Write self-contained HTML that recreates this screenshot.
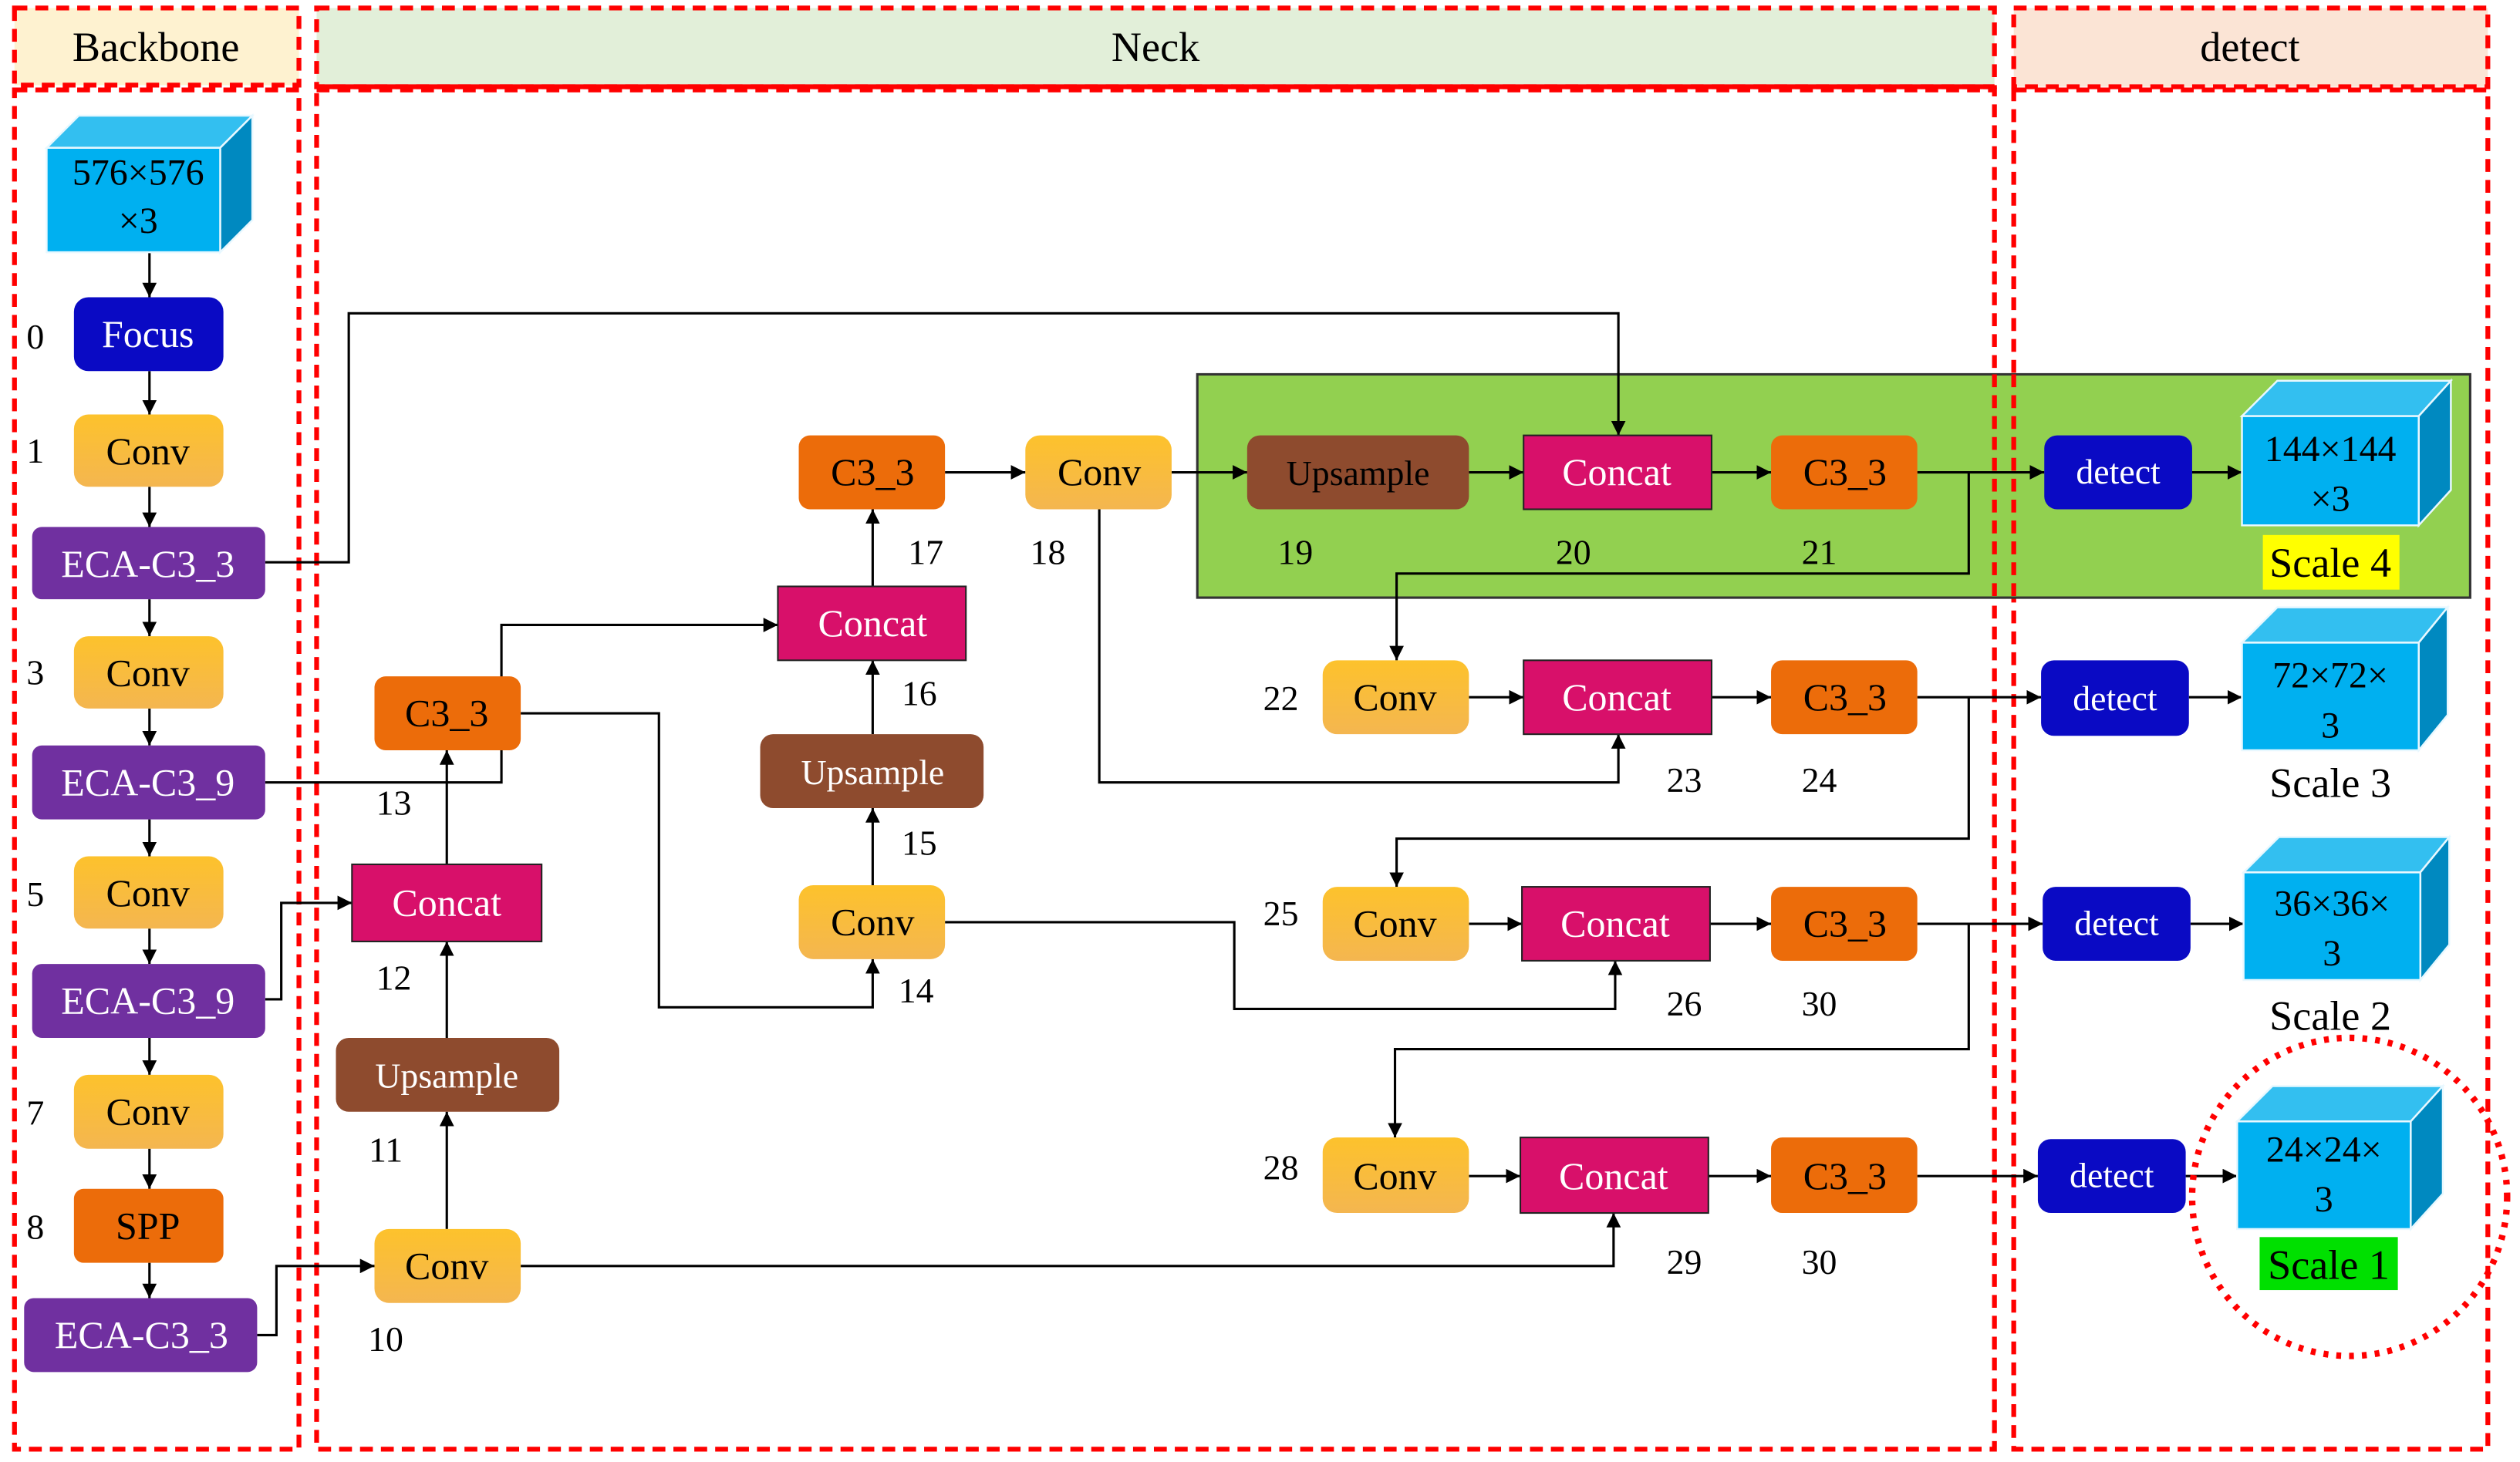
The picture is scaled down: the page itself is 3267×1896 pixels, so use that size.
<!DOCTYPE html>
<html><head><meta charset="utf-8"><style>
html,body{margin:0;padding:0;background:#fff;}
svg{display:block;}
text{font-family:"Liberation Serif",serif;}
</style></head><body>
<svg width="3267" height="1896" viewBox="0 0 1568 910" xmlns="http://www.w3.org/2000/svg">
<defs>
<marker id="a" viewBox="0 0 10 10" refX="10" refY="5" markerWidth="9" markerHeight="9" markerUnits="userSpaceOnUse" orient="auto"><path d="M0,0 L10,5 L0,10 z" fill="#000"/></marker>
<linearGradient id="y" x1="0" y1="0" x2="0" y2="1"><stop offset="0" stop-color="#fdc22c"/><stop offset="1" stop-color="#f4b650"/></linearGradient>
</defs>
<rect width="1568" height="910" fill="#fff"/>
<!-- panels -->
<g stroke="#f00" stroke-width="3" stroke-dasharray="8,5">
<rect x="9" y="5" width="177" height="48" fill="#fef2d0"/>
<rect x="9" y="56" width="177" height="846" fill="none"/>
<rect x="197" y="5" width="1044" height="49" fill="#e2efd9"/>
<rect x="197" y="56" width="1044" height="846" fill="none"/>
<rect x="1253" y="5" width="295" height="49" fill="#fbe4d5"/>
<rect x="1253" y="56" width="295" height="846" fill="none"/>
</g>
<line x1="197" y1="54" x2="1241" y2="54" stroke="#f00" stroke-width="3"/>
<g font-size="26" text-anchor="middle">
<text x="97" y="38">Backbone</text><text x="719" y="38">Neck</text><text x="1400" y="38">detect</text>
</g>
<!-- green box -->
<rect x="745" y="233" width="792" height="139" fill="#92d050" stroke="#333" stroke-width="1.5"/>
<!-- re-draw red dashed across green -->
<g stroke="#f00" stroke-width="3" stroke-dasharray="8,5"><line x1="1241" y1="233" x2="1241" y2="372"/><line x1="1253" y1="233" x2="1253" y2="372"/></g>
<!-- connectors -->
<g stroke="#000" stroke-width="1.5" fill="none" marker-end="url(#a)">
<path d="M93,157V185"/><path d="M93,231V258"/><path d="M93,303V328"/><path d="M93,373V396"/><path d="M93,441V464"/><path d="M93,510V533"/><path d="M93,578V600"/><path d="M93,646V669"/><path d="M93,715V740"/><path d="M93,786V808"/>
<path d="M165,350H217V195H1007V271"/>
<path d="M165,487H312V389H484"/>
<path d="M165,622H175V562H219"/>
<path d="M160,831H172V788H233"/>
<path d="M278,765V692"/><path d="M278,646V586"/><path d="M278,538V467"/>
<path d="M324,444H410V627H543V597"/>
<path d="M543,551V503"/><path d="M543,457V411"/><path d="M543,365V317"/>
<path d="M588,294H638"/><path d="M729,294H776"/><path d="M914,294H948"/><path d="M1065,294H1102"/><path d="M1193,294H1272"/>
<path d="M684,317V487H1007V457"/>
<path d="M1225,294V357H869V411"/>
<path d="M914,434H948"/><path d="M1065,434H1102"/><path d="M1193,434H1270"/>
<path d="M1225,434V522H869V552"/>
<path d="M588,574H768V628H1005V598"/>
<path d="M914,575H947"/><path d="M1064,575H1102"/><path d="M1193,575H1271"/>
<path d="M1225,575V653H868V708"/>
<path d="M324,788H1004V755"/>
<path d="M914,732H946"/><path d="M1063,732H1102"/><path d="M1193,732H1268"/>
<path d="M1364,294H1395"/><path d="M1362,434H1395"/><path d="M1363,575H1396"/><path d="M1360,732H1392"/>
</g>
<!-- cubes -->
<g stroke="#e8f8ff" stroke-width="1.2">
<polygon points="29,92 49,72 157,72 137,92" fill="#33bff0"/><polygon points="137,92 157,72 157,137 137,157" fill="#0089c0"/><rect x="29" y="92" width="108" height="65" fill="#00b0f0"/>
<polygon points="1395,259 1417,237 1525,237 1505,259" fill="#33bff0"/><polygon points="1505,259 1525,237 1525,305 1505,327" fill="#0089c0"/><rect x="1395" y="259" width="110" height="68" fill="#00b0f0"/>
<polygon points="1395,400 1417,378 1523,378 1505,400" fill="#33bff0"/><polygon points="1505,400 1523,378 1523,445 1505,467" fill="#0089c0"/><rect x="1395" y="400" width="110" height="67" fill="#00b0f0"/>
<polygon points="1396,543 1418,521 1524,521 1506,543" fill="#33bff0"/><polygon points="1506,543 1524,521 1524,588 1506,610" fill="#0089c0"/><rect x="1396" y="543" width="110" height="67" fill="#00b0f0"/>
<polygon points="1392,698 1414,676 1520,676 1500,698" fill="#33bff0"/><polygon points="1500,698 1520,676 1520,743 1500,765" fill="#0089c0"/><rect x="1392" y="698" width="108" height="67" fill="#00b0f0"/>
</g>
<g font-size="23" text-anchor="middle">
<text x="86" y="115">576×576</text><text x="86" y="145">×3</text>
<text x="1450" y="287">144×144</text><text x="1450" y="318">×3</text>
<text x="1450" y="428">72×72×</text><text x="1450" y="459">3</text>
<text x="1451" y="570">36×36×</text><text x="1451" y="601">3</text>
<text x="1446" y="723">24×24×</text><text x="1446" y="754">3</text>
</g>
<rect x="1408" y="333" width="85" height="34" fill="#ffff00"/>
<rect x="1406" y="770" width="86" height="33" fill="#00e000"/>
<g font-size="26" text-anchor="middle">
<text x="1450" y="359">Scale 4</text><text x="1450" y="496">Scale 3</text><text x="1450" y="641">Scale 2</text><text x="1449" y="796">Scale 1</text>
</g>
<ellipse cx="1462" cy="745" rx="98" ry="99" fill="none" stroke="#f00" stroke-width="4" stroke-dasharray="3,5"/>
<!-- nodes -->
<g>
<rect x="46" y="185" width="93" height="46" rx="9" fill="#0a0ac4"/>
<rect x="46" y="258" width="93" height="45" rx="9" fill="url(#y)"/>
<rect x="20" y="328" width="145" height="45" rx="6" fill="#7030a0"/>
<rect x="46" y="396" width="93" height="45" rx="9" fill="url(#y)"/>
<rect x="20" y="464" width="145" height="46" rx="6" fill="#7030a0"/>
<rect x="46" y="533" width="93" height="45" rx="9" fill="url(#y)"/>
<rect x="20" y="600" width="145" height="46" rx="6" fill="#7030a0"/>
<rect x="46" y="669" width="93" height="46" rx="9" fill="url(#y)"/>
<rect x="46" y="740" width="93" height="46" rx="6" fill="#ec6c0a"/>
<rect x="15" y="808" width="145" height="46" rx="6" fill="#7030a0"/>

<rect x="233" y="765" width="91" height="46" rx="9" fill="url(#y)"/>
<rect x="209" y="646" width="139" height="46" rx="8" fill="#8e4b2e"/>
<rect x="219" y="538" width="118" height="48" fill="#d8106a" stroke="#222" stroke-width="1"/>
<rect x="233" y="421" width="91" height="46" rx="7" fill="#ec6c0a"/>
<rect x="497" y="551" width="91" height="46" rx="9" fill="url(#y)"/>
<rect x="473" y="457" width="139" height="46" rx="8" fill="#8e4b2e"/>
<rect x="484" y="365" width="117" height="46" fill="#d8106a" stroke="#222" stroke-width="1"/>
<rect x="497" y="271" width="91" height="46" rx="7" fill="#ec6c0a"/>
<rect x="638" y="271" width="91" height="46" rx="9" fill="url(#y)"/>
<rect x="776" y="271" width="138" height="46" rx="8" fill="#8e4b2e"/>
<rect x="948" y="271" width="117" height="46" fill="#d8106a" stroke="#222" stroke-width="1"/>
<rect x="1102" y="271" width="91" height="46" rx="7" fill="#ec6c0a"/>
<rect x="823" y="411" width="91" height="46" rx="9" fill="url(#y)"/>
<rect x="948" y="411" width="117" height="46" fill="#d8106a" stroke="#222" stroke-width="1"/>
<rect x="1102" y="411" width="91" height="46" rx="7" fill="#ec6c0a"/>
<rect x="823" y="552" width="91" height="46" rx="9" fill="url(#y)"/>
<rect x="947" y="552" width="117" height="46" fill="#d8106a" stroke="#222" stroke-width="1"/>
<rect x="1102" y="552" width="91" height="46" rx="7" fill="#ec6c0a"/>
<rect x="823" y="708" width="91" height="47" rx="9" fill="url(#y)"/>
<rect x="946" y="708" width="117" height="47" fill="#d8106a" stroke="#222" stroke-width="1"/>
<rect x="1102" y="708" width="91" height="47" rx="7" fill="#ec6c0a"/>

<rect x="1272" y="271" width="92" height="46" rx="8" fill="#0a0ac4"/>
<rect x="1270" y="411" width="92" height="47" rx="8" fill="#0a0ac4"/>
<rect x="1271" y="552" width="92" height="46" rx="8" fill="#0a0ac4"/>
<rect x="1268" y="709" width="92" height="46" rx="8" fill="#0a0ac4"/>
</g>
<g font-size="24" text-anchor="middle" fill="#000">
<text x="92" y="216" fill="#fff">Focus</text>
<text x="92" y="289">Conv</text>
<text x="92" y="359" fill="#fff">ECA-C3_3</text>
<text x="92" y="427">Conv</text>
<text x="92" y="495" fill="#fff">ECA-C3_9</text>
<text x="92" y="564">Conv</text>
<text x="92" y="631" fill="#fff">ECA-C3_9</text>
<text x="92" y="700">Conv</text>
<text x="92" y="771">SPP</text>
<text x="88" y="839" fill="#fff">ECA-C3_3</text>
<text x="278" y="796">Conv</text>
<text x="278" y="677" fill="#fff" font-size="22">Upsample</text>
<text x="278" y="570" fill="#fff">Concat</text>
<text x="278" y="452">C3_3</text>
<text x="543" y="582">Conv</text>
<text x="543" y="488" fill="#fff" font-size="22">Upsample</text>
<text x="543" y="396" fill="#fff">Concat</text>
<text x="543" y="302">C3_3</text>
<text x="684" y="302">Conv</text>
<text x="845" y="302" font-size="22">Upsample</text>
<text x="1006" y="302" fill="#fff">Concat</text>
<text x="1148" y="302">C3_3</text>
<text x="868" y="442">Conv</text>
<text x="1006" y="442" fill="#fff">Concat</text>
<text x="1148" y="442">C3_3</text>
<text x="868" y="583">Conv</text>
<text x="1005" y="583" fill="#fff">Concat</text>
<text x="1148" y="583">C3_3</text>
<text x="868" y="740">Conv</text>
<text x="1004" y="740" fill="#fff">Concat</text>
<text x="1148" y="740">C3_3</text>
<g fill="#fff" font-size="22">
<text x="1318" y="301">detect</text><text x="1316" y="442">detect</text><text x="1317" y="582">detect</text><text x="1314" y="739">detect</text>
</g>
</g>
<g font-size="22" text-anchor="middle">
<text x="22" y="217">0</text><text x="22" y="288">1</text><text x="22" y="426">3</text><text x="22" y="564">5</text><text x="22" y="700">7</text><text x="22" y="771">8</text>
<text x="240" y="841">10</text><text x="240" y="723">11</text><text x="245" y="616">12</text><text x="245" y="507">13</text>
<text x="570" y="624">14</text><text x="572" y="532">15</text><text x="572" y="439">16</text><text x="576" y="351">17</text><text x="652" y="351">18</text>
<text x="806" y="351">19</text><text x="979" y="351">20</text><text x="1132" y="351">21</text>
<text x="797" y="442">22</text><text x="1048" y="493">23</text><text x="1132" y="493">24</text>
<text x="797" y="576">25</text><text x="1048" y="632">26</text><text x="1132" y="632">30</text>
<text x="797" y="734">28</text><text x="1048" y="793">29</text><text x="1132" y="793">30</text>
</g>
</svg>
</body></html>
